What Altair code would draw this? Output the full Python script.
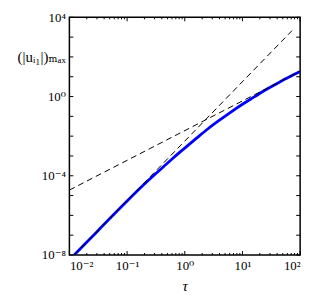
import altair as alt
import pandas as pd
import math

# ---- data (log-log) ----
blue_tau = [0.0121, 0.0316, 0.1, 0.2, 0.4, 0.63, 1, 1.6, 2.5, 4, 6.3,
            10, 16, 25, 40, 63, 100]
blue_val = [1.0e-8, 1.74e-7, 5.3e-6, 3.8e-5, 2.4e-4, 7.9e-4, 2.5e-3, 7.9e-3,
            2.3e-2, 6.4e-2, 0.165, 0.41, 0.955, 2.14, 4.57, 9.33, 18.2]

steep_tau = [0.0121, 72]
steep_val = [1.0e-8, 2.1e3]

shallow_tau = [0.01, 100]
shallow_val = [1.9e-5, 19.0]

x_major = [0.01, 0.1, 1, 10, 100]
x_minor = [m * d for d in [0.01, 0.1, 1, 10] for m in range(2, 10)]
y_major = [10.0 ** k for k in range(-8, 5)]
y_labeled = [1e-8, 1e-4, 1e0, 1e4]

SUP = str.maketrans("-0123456789", "⁻⁰¹²³⁴⁵⁶⁷⁸⁹")


def label_expr(vals):
    parts = []
    for v in vals:
        k = int(round(math.log10(v)))
        parts.append((10 ** (k + 0.5), "10" + str(k).translate(SUP)))
    expr = "''"
    for thr, lab in reversed(parts):
        expr = f"datum.value < {thr:.6g} ? '{lab}' : ({expr})"
    return expr


W, H = 233, 240
FONT = "Liberation Serif, DejaVu Serif"
MAJ, MIN = 4, 2

xscale = alt.Scale(type="log", domain=[0.01, 100])
yscale = alt.Scale(type="log", domain=[1e-8, 1e4])

blue_df = pd.DataFrame({"tau": blue_tau, "val": blue_val})
steep_df = pd.DataFrame({"tau": steep_tau, "val": steep_val})
shallow_df = pd.DataFrame({"tau": shallow_tau, "val": shallow_val})
xmaj_df = pd.DataFrame({"v": x_major})
xmin_df = pd.DataFrame({"v": x_minor})
ymaj_df = pd.DataFrame({"v": y_major})

x_main = alt.Axis(orient="bottom", values=x_major, labelExpr=label_expr(x_major),
                  ticks=False, domain=False, grid=False, labelPadding=5,
                  labelFont=FONT, labelFontSize=13, labelColor="black",
                  title="τ", titleFont=FONT, titleFontStyle="italic",
                  titleFontWeight="normal", titleFontSize=15, titleColor="black",
                  titleY=31, titleBaseline="middle")
y_main = alt.Axis(orient="left", values=y_labeled, labelExpr=label_expr(y_labeled),
                  ticks=False, domain=False, grid=False, labelPadding=4,
                  labelFont=FONT, labelFontSize=13, labelColor="black",
                  labelBaseline="middle",
                  title="(|uᵢ₁|)ₘₐₓ", titleFont=FONT, titleFontSize=15,
                  titleFontWeight="normal", titleColor="black", titleAngle=0,
                  titleAlign="right", titleBaseline="middle", titleX=-4, titleY=40)

blue = alt.Chart(blue_df).mark_line(color="#0000ff", strokeWidth=2.8, clip=True,
                                    interpolate="monotone").encode(
    x=alt.X("tau:Q", scale=xscale, axis=x_main),
    y=alt.Y("val:Q", scale=yscale, axis=y_main),
)

steep = alt.Chart(steep_df).mark_line(color="black", strokeWidth=1,
                                      strokeDash=[6, 4], clip=True).encode(
    x=alt.X("tau:Q", scale=xscale, axis=x_main),
    y=alt.Y("val:Q", scale=yscale, axis=y_main),
)

shallow = alt.Chart(shallow_df).mark_line(color="black", strokeWidth=1,
                                          strokeDash=[6, 4], clip=True).encode(
    x=alt.X("tau:Q", scale=xscale, axis=x_main),
    y=alt.Y("val:Q", scale=yscale, axis=y_main),
)


def xticks(df, y0, y1):
    return alt.Chart(df).mark_rule(color="black", strokeWidth=1).encode(
        x=alt.X("v:Q", scale=xscale, axis=x_main),
        y=alt.value(y0), y2=alt.value(y1))


def yticks(df, x0, x1):
    return alt.Chart(df).mark_rule(color="black", strokeWidth=1).encode(
        y=alt.Y("v:Q", scale=yscale, axis=y_main),
        x=alt.value(x0), x2=alt.value(x1))


ticks = [
    xticks(xmaj_df, H, H - MAJ), xticks(xmin_df, H, H - MIN),
    xticks(xmaj_df, 0, MAJ), xticks(xmin_df, 0, MIN),
    yticks(ymaj_df, 0, MAJ), yticks(ymaj_df, W, W - MAJ),
]

chart = alt.layer(blue, steep, shallow, *ticks).properties(
    width=W, height=H,
    autosize=alt.AutoSizeParams(type="none"),
    padding={"left": 62, "top": 8, "right": 14, "bottom": 40},
).configure_view(stroke="black", strokeWidth=1.5)

chart.save("out.html", embed_options={"renderer": "svg", "actions": False})
